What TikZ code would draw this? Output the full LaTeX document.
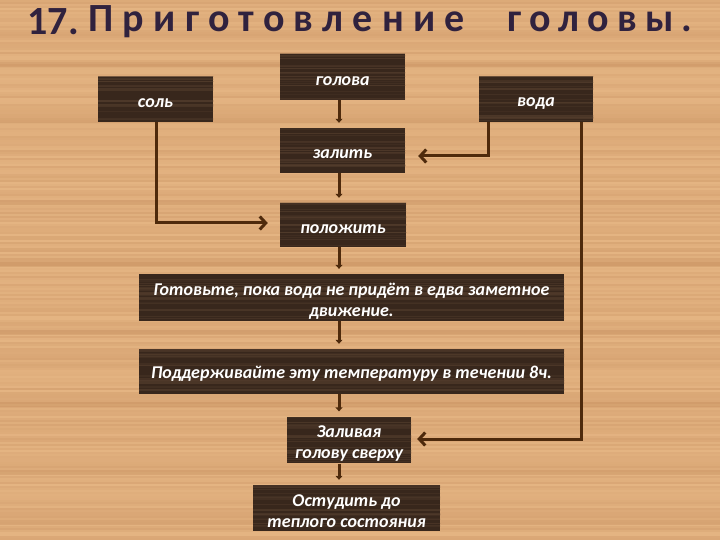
\documentclass[tikz,border=0pt]{standalone}
\usepackage{fontspec}
\setmainfont{Carlito}
\newfontfamily\titlefont[LetterSpace=20]{Carlito}
\newfontfamily\titlefontb[LetterSpace=23]{Carlito}
\usetikzlibrary{arrows.meta,calc}
\newcommand\bxstrut{\rule{0pt}{19pt}}
\definecolor{woodL}{RGB}{228,180,130}
\definecolor{woodD}{RGB}{196,140,92}
\definecolor{boxF}{RGB}{56,39,28}
\definecolor{boxS}{RGB}{82,60,44}
\definecolor{lineC}{RGB}{78,42,12}
\definecolor{titleC}{RGB}{48,34,62}
\tikzset{
  stepbox/.style={fill=boxF, text=white, inner sep=2pt,
    font=\fontsize{18}{21}\selectfont\itshape\bfseries, align=center,
    execute at begin node={\rule{0pt}{17pt}},
    path picture={
      \foreach \k in {1,...,22} {
        \pgfmathsetmacro\yy{rnd}
        \pgfmathsetmacro\oo{0.25+0.5*rnd}
        \fill[boxS, opacity=\oo] ($(path picture bounding box.north west)!\yy!(path picture bounding box.south west)$) rectangle ++(500pt,1.2pt);
      }
    }},
  conn/.style={draw=lineC, line width=3pt},
  vtip/.style={conn, -{Triangle[length=4pt,width=7pt]}, shorten >=5pt},
  stip/.style={conn, -{Straight Barb[length=6pt,width=13pt]}},
  ttl/.style={anchor=west, text=titleC},
}
\begin{document}
\begin{tikzpicture}[x=1pt,y=-1pt]
\useasboundingbox (0,0) rectangle (720,540);
\fill[woodL] (0,0) rectangle (720,540);
\pgfmathsetseed{11}
\foreach \y in {0,2,...,538} {
  \pgfmathsetmacro\s{int(rnd*40)}
  \fill[woodD!\s!woodL] (0,\y) rectangle (720,\y+2);
}
\foreach \y in {62,118,200,262,330,402,470,520} {
  \fill[woodD, opacity=0.35] (0,\y) rectangle (720,\y+5);
}
% title
\node[ttl, font=\fontsize{40}{44}\selectfont\bfseries] (t1) at (24,22) {17.};
\node[ttl, font=\fontsize{40}{44}\selectfont\titlefontb\bfseries] (t2) at (85,22) {Приготовление};
\node[ttl, font=\fontsize{40}{44}\selectfont\titlefont\bfseries] (t3) at (504,22) {головы.};
% boxes
\node[stepbox, minimum width=125pt, minimum height=46pt] (golova) at (342.5,77) {голова};
\node[stepbox, minimum width=115pt, minimum height=45pt] (sol) at (155.5,99.5) {соль};
\node[stepbox, minimum width=114pt, minimum height=45pt] (voda) at (536,99.5) {вода};
\node[stepbox, minimum width=125pt, minimum height=45pt] (zalit) at (342.5,150.5) {залить};
\node[stepbox, minimum width=126pt, minimum height=44pt] (polozh) at (343,225) {положить};
\node[stepbox, minimum width=425pt, minimum height=45pt] (gotov) at (351.5,297.5) {\bxstrut Готовьте, пока вода не придёт в едва заметное\\движение.};
\node[stepbox, minimum width=425pt, minimum height=45pt] (podd) at (351.5,371.5) {Поддерживайте эту температуру в течении 8ч.};
\node[stepbox, minimum width=124pt, minimum height=46pt] (zaliv) at (349,440) {\bxstrut Заливая\\голову сверху};
\node[stepbox, minimum width=187pt, minimum height=46pt] (ostud) at (346.5,508) {\bxstrut Остудить до\\теплого состояния};
% spine
\coordinate (sp) at (339,0);
\draw[vtip] (golova.south -| sp) -- (zalit.north -| sp);
\draw[vtip] (zalit.south -| sp) -- (polozh.north -| sp);
\draw[vtip] (polozh.south -| sp) -- (gotov.north -| sp);
\draw[vtip] (gotov.south -| sp) -- (podd.north -| sp);
\draw[vtip] (podd.south -| sp) -- (zaliv.north -| sp);
\draw[vtip] (zaliv.south -| sp) -- (ostud.north -| sp);
% side connectors
\coordinate (solx) at (156,0);
\draw[stip, shorten >=12pt] (sol.south -| solx) |- ([yshift=2pt]polozh.west);
\coordinate (vodax) at (488,0);
\draw[stip, shorten >=13pt] (voda.south -| vodax) |- ([yshift=-5.5pt]zalit.east);
\coordinate (vodar) at (581,0);
\draw[stip, shorten >=6pt] (voda.south -| vodar) |- ([yshift=1pt]zaliv.east);
\end{tikzpicture}
\end{document}
